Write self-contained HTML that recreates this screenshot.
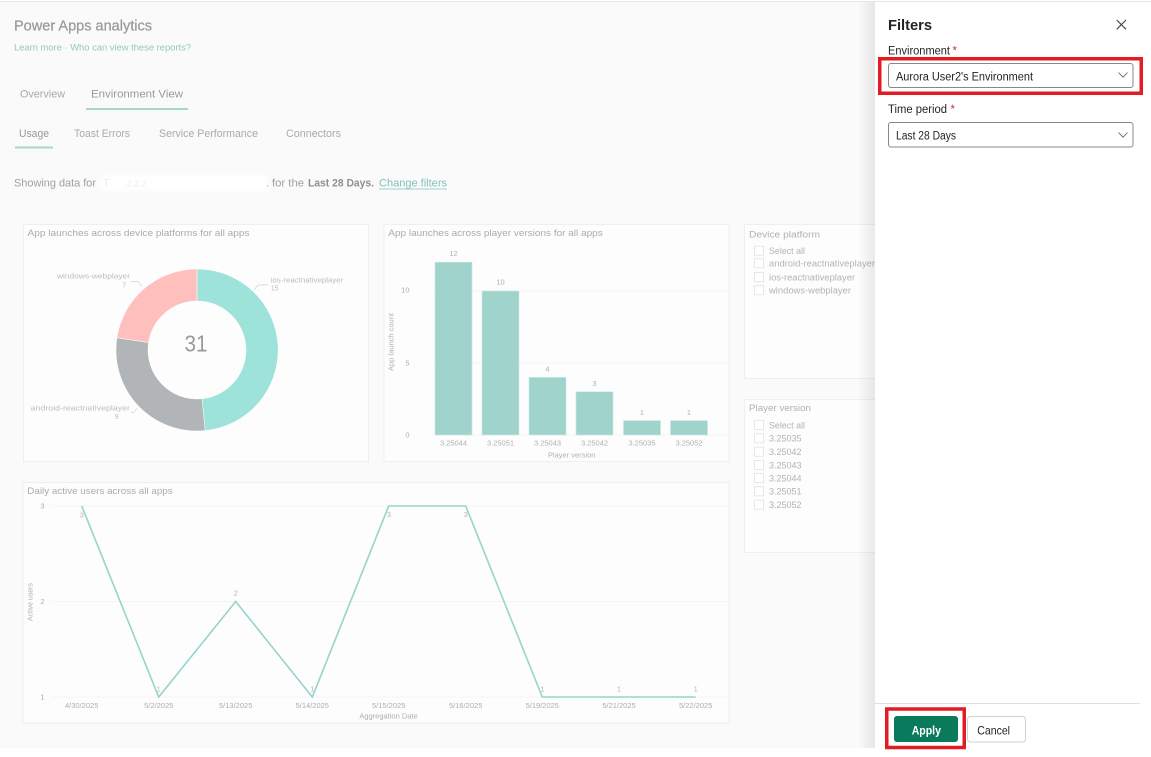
<!DOCTYPE html>
<html><head><meta charset="utf-8"><style>
html,body{margin:0;padding:0;background:#fff;width:1151px;height:757px;overflow:hidden}
svg{display:block;font-family:"Liberation Sans",Arial,sans-serif}
</style></head><body>
<svg width="1151" height="757" viewBox="0 0 1151 757" xmlns="http://www.w3.org/2000/svg">
<defs>
<linearGradient id="sh" x1="0" x2="1" y1="0" y2="0">
<stop offset="0" stop-color="#000" stop-opacity="0"/>
<stop offset="1" stop-color="#000" stop-opacity="0.08"/>
</linearGradient>
<filter id="bl" x="-20%" y="-50%" width="140%" height="200%"><feGaussianBlur stdDeviation="2.5"/></filter>
</defs>
<rect x="0" y="0" width="1151" height="757" fill="#fff"/>
<rect x="0" y="2" width="875" height="746" fill="#fafafa"/>
<line x1="0" y1="1.5" x2="1151" y2="1.5" stroke="#e6e6e6" stroke-width="1"/>

<!-- header -->
<text x="14" y="30.5" font-size="14.5" fill="#9a9a9a" stroke="#9a9a9a" stroke-width="0.25" textLength="138" lengthAdjust="spacingAndGlyphs">Power Apps analytics</text>
<text x="14" y="50.5" font-size="9.5" fill="#8fc9c1" textLength="177" lengthAdjust="spacingAndGlyphs">Learn more · Who can view these reports?</text>
<text x="20" y="97.5" font-size="11" fill="#a8a8a8" textLength="45" lengthAdjust="spacingAndGlyphs">Overview</text>
<text x="91" y="97.5" font-size="11" fill="#999" textLength="92" lengthAdjust="spacingAndGlyphs">Environment View</text>
<rect x="86" y="108" width="102" height="2" fill="#a6d7cd"/>
<text x="19" y="137" font-size="11" fill="#999" textLength="30" lengthAdjust="spacingAndGlyphs">Usage</text>
<text x="74" y="137" font-size="11" fill="#aaa" textLength="56" lengthAdjust="spacingAndGlyphs">Toast Errors</text>
<text x="159" y="137" font-size="11" fill="#aaa" textLength="99" lengthAdjust="spacingAndGlyphs">Service Performance</text>
<text x="286" y="137" font-size="11" fill="#aaa" textLength="55" lengthAdjust="spacingAndGlyphs">Connectors</text>
<rect x="15" y="146.5" width="38" height="2" fill="#a6d7cd"/>
<text x="14" y="186.5" font-size="11" fill="#a0a0a0" textLength="82" lengthAdjust="spacingAndGlyphs">Showing data for</text>
<rect x="100" y="175" width="168" height="16" rx="6" fill="#fff" filter="url(#bl)"/>
<text x="103" y="186.5" font-size="11" fill="#ececec">T</text>
<text x="124" y="186.5" font-size="9" fill="#efefef">.2.2.2</text>
<text x="266" y="186.5" font-size="11" fill="#b0b0b0">.</text>
<text x="272" y="186.5" font-size="11" fill="#a0a0a0" textLength="32" lengthAdjust="spacingAndGlyphs">for the</text>
<text x="308" y="186.5" font-size="11" font-weight="bold" fill="#8f8f8f" textLength="66" lengthAdjust="spacingAndGlyphs">Last 28 Days.</text>
<text x="379" y="186.5" font-size="11" fill="#7ec2b9" textLength="68" lengthAdjust="spacingAndGlyphs">Change filters</text>
<line x1="379" y1="189" x2="447" y2="189" stroke="#7ec2b9" stroke-width="0.8"/>

<!-- donut card -->
<rect x="23.5" y="224.5" width="345" height="237" fill="#fdfdfd" stroke="#efefef"/>
<text x="27.5" y="236" font-size="9.5" fill="#ababab" textLength="222" lengthAdjust="spacingAndGlyphs">App launches across device platforms for all apps</text>
<path d="M197,269 A81,81 0 0 1 205.2,430.6 L201.96,398.75 A49,49 0 0 0 197,301 Z" fill="#9de3da" stroke="#fff" stroke-width="0.5"/>
<path d="M205.2,430.6 A81,81 0 0 1 116.93,337.74 L148.56,342.58 A49,49 0 0 0 201.96,398.75 Z" fill="#b1b5b7" stroke="#fff" stroke-width="0.5"/>
<path d="M116.93,337.74 A81,81 0 0 1 197,269 L197,301 A49,49 0 0 0 148.56,342.58 Z" fill="#ffc0bd" stroke="#fff" stroke-width="0.5"/>
<text x="184.5" y="351.5" font-size="23" fill="#9a9a9a" textLength="23" lengthAdjust="spacingAndGlyphs">31</text>
<text x="130" y="278.5" font-size="7" fill="#bdbdbd" text-anchor="end" textLength="73" lengthAdjust="spacingAndGlyphs">windows-webplayer</text>
<text x="126" y="287.7" font-size="7" fill="#bdbdbd" text-anchor="end">7</text>
<polyline points="131,281.7 138.3,281.7 142.3,286.7" fill="none" stroke="#d0d0d0" stroke-width="0.7"/>
<text x="270.7" y="282.7" font-size="7" fill="#bdbdbd" textLength="72.6" lengthAdjust="spacingAndGlyphs">ios-reactnativeplayer</text>
<text x="270.7" y="290.7" font-size="7" fill="#bdbdbd">15</text>
<polyline points="254,290 258,285 268,285" fill="none" stroke="#d0d0d0" stroke-width="0.7"/>
<text x="130" y="410.7" font-size="7" fill="#bdbdbd" text-anchor="end" textLength="99.3" lengthAdjust="spacingAndGlyphs">android-reactnativeplayer</text>
<text x="118.7" y="419" font-size="7" fill="#bdbdbd" text-anchor="end">9</text>
<polyline points="131,412.7 133.5,412.7 137,408.3" fill="none" stroke="#d0d0d0" stroke-width="0.7"/>

<!-- bar card -->
<rect x="384" y="224.5" width="345" height="237" fill="#fdfdfd" stroke="#efefef"/>
<text x="388.3" y="236" font-size="9.5" fill="#ababab" textLength="214.4" lengthAdjust="spacingAndGlyphs">App launches across player versions for all apps</text>
<line x1="429" y1="291" x2="728" y2="291" stroke="#f2f2f2" stroke-width="0.8"/>
<line x1="429" y1="363" x2="728" y2="363" stroke="#f2f2f2" stroke-width="0.8"/>
<line x1="429" y1="435" x2="728" y2="435" stroke="#f2f2f2" stroke-width="0.8"/>
<g font-size="7.5" fill="#adadad" text-anchor="end">
<text x="409.5" y="437.3">0</text>
<text x="409.5" y="365.7">5</text>
<text x="409.5" y="292.7">10</text>
</g>
<text transform="translate(393.3,342) rotate(-90)" font-size="7.5" fill="#b0b0b0" text-anchor="middle" textLength="58" lengthAdjust="spacingAndGlyphs">App launch count</text>
<g fill="#9fd3cc" stroke="#c8e8e3" stroke-width="0.6">
<rect x="435" y="262.2" width="37" height="172.8"/>
<rect x="482" y="291" width="37" height="144"/>
<rect x="529" y="377.4" width="37" height="57.6"/>
<rect x="576" y="391.8" width="37" height="43.2"/>
<rect x="623.5" y="420.6" width="37" height="14.4"/>
<rect x="670.5" y="420.6" width="37" height="14.4"/>
</g>
<g font-size="7.5" fill="#b0b0b0" text-anchor="middle">
<text x="453.5" y="256">12</text>
<text x="500.5" y="284.7">10</text>
<text x="547.5" y="371.7">4</text>
<text x="594.5" y="386">3</text>
<text x="642" y="415">1</text>
<text x="689" y="415">1</text>
<text x="453.5" y="445.7">3.25044</text>
<text x="500.5" y="445.7">3.25051</text>
<text x="547.5" y="445.7">3.25043</text>
<text x="594.5" y="445.7">3.25042</text>
<text x="642" y="445.7">3.25035</text>
<text x="689" y="445.7">3.25052</text>
<text x="571.7" y="457.3">Player version</text>
</g>

<!-- slicers -->
<rect x="744.5" y="224.5" width="140" height="154" fill="#fdfdfd" stroke="#efefef"/>
<text x="749" y="237.3" font-size="9.5" fill="#b0b0b0" textLength="71" lengthAdjust="spacingAndGlyphs">Device platform</text>
<g fill="#fff" stroke="#e2e2e2" stroke-width="0.8">
<rect x="754.5" y="246.2" width="9" height="9"/>
<rect x="754.5" y="258.8" width="9" height="9"/>
<rect x="754.5" y="272.5" width="9" height="9"/>
<rect x="754.5" y="285.8" width="9" height="9"/>
</g>
<g font-size="9" fill="#b3b3b3">
<text x="769" y="254" textLength="36" lengthAdjust="spacingAndGlyphs">Select all</text>
<text x="769" y="266.7" textLength="106" lengthAdjust="spacingAndGlyphs">android-reactnativeplayer</text>
<text x="769" y="280.3" textLength="86" lengthAdjust="spacingAndGlyphs">ios-reactnativeplayer</text>
<text x="769" y="293.7" textLength="82" lengthAdjust="spacingAndGlyphs">windows-webplayer</text>
</g>
<rect x="744.5" y="399.5" width="140" height="153" fill="#fdfdfd" stroke="#efefef"/>
<text x="749" y="411" font-size="9.5" fill="#b0b0b0" textLength="62" lengthAdjust="spacingAndGlyphs">Player version</text>
<g fill="#fff" stroke="#e2e2e2" stroke-width="0.8">
<rect x="754.5" y="420.5" width="9" height="9"/>
<rect x="754.5" y="433.8" width="9" height="9"/>
<rect x="754.5" y="447.2" width="9" height="9"/>
<rect x="754.5" y="460.5" width="9" height="9"/>
<rect x="754.5" y="473.5" width="9" height="9"/>
<rect x="754.5" y="486.8" width="9" height="9"/>
<rect x="754.5" y="500.2" width="9" height="9"/>
</g>
<g font-size="9" fill="#b3b3b3">
<text x="769" y="428.3" textLength="36" lengthAdjust="spacingAndGlyphs">Select all</text>
<text x="769" y="441.6">3.25035</text>
<text x="769" y="455">3.25042</text>
<text x="769" y="468.3">3.25043</text>
<text x="769" y="481.3">3.25044</text>
<text x="769" y="494.6">3.25051</text>
<text x="769" y="508">3.25052</text>
</g>

<!-- line card -->
<rect x="23" y="482.5" width="706" height="240.5" fill="#fdfdfd" stroke="#efefef"/>
<text x="27.3" y="494" font-size="9.5" fill="#ababab" textLength="145.4" lengthAdjust="spacingAndGlyphs">Daily active users across all apps</text>
<g stroke="#f2f2f2" stroke-width="0.8">
<line x1="50.7" y1="506" x2="726.7" y2="506"/>
<line x1="50.7" y1="601.5" x2="726.7" y2="601.5"/>
<line x1="50.7" y1="697" x2="726.7" y2="697"/>
</g>
<g font-size="7.5" fill="#adadad" text-anchor="end">
<text x="44.5" y="508.7">3</text>
<text x="44.5" y="604">2</text>
<text x="44.5" y="699.3">1</text>
</g>
<text transform="translate(32.5,602) rotate(-90)" font-size="7.5" fill="#b0b0b0" text-anchor="middle" textLength="38" lengthAdjust="spacingAndGlyphs">Active users</text>
<polyline points="81.7,506 158.7,697 235.7,601.5 312.3,697 388.7,506 465.7,506 542.3,697 619,697 695.7,697" fill="none" stroke="#97d4cc" stroke-width="1.6" stroke-linejoin="miter"/>
<g font-size="7.5" fill="#b5b5b5" text-anchor="middle">
<text x="81.7" y="517.3">3</text>
<text x="158.7" y="691.3">1</text>
<text x="235.7" y="595.3">2</text>
<text x="312.3" y="691.3">1</text>
<text x="389" y="517">3</text>
<text x="465.7" y="517">3</text>
<text x="542.3" y="691.3">1</text>
<text x="619" y="691.3">1</text>
<text x="695.7" y="691.3">1</text>
</g>
<g font-size="7.5" fill="#adadad" text-anchor="middle">
<text x="81.7" y="708">4/30/2025</text>
<text x="158.7" y="708">5/2/2025</text>
<text x="235.7" y="708">5/13/2025</text>
<text x="312.3" y="708">5/14/2025</text>
<text x="388.7" y="708">5/15/2025</text>
<text x="465.7" y="708">5/16/2025</text>
<text x="542.3" y="708">5/19/2025</text>
<text x="619" y="708">5/21/2025</text>
<text x="695.7" y="708">5/22/2025</text>
<text x="388.5" y="718.7">Aggregation Date</text>
</g>

<!-- panel -->
<rect x="858" y="2" width="17" height="746" fill="url(#sh)"/>
<rect x="875" y="2" width="276" height="755" fill="#fff"/>
<text x="888" y="30" font-size="15" font-weight="bold" fill="#242424" textLength="44" lengthAdjust="spacingAndGlyphs">Filters</text>
<path d="M1116.7,20 L1126,29.3 M1126,20 L1116.7,29.3" stroke="#444" stroke-width="1.1" fill="none"/>
<text x="888" y="54.5" font-size="11.5" fill="#242424" textLength="62" lengthAdjust="spacingAndGlyphs">Environment</text>
<text x="952.5" y="54.5" font-size="11.5" fill="#c4314b">*</text>
<rect x="888.5" y="63.5" width="244.5" height="24" rx="2.5" fill="#fff" stroke="#8a8886" stroke-width="1"/>
<text x="896" y="80.7" font-size="11.5" fill="#242424" textLength="137" lengthAdjust="spacingAndGlyphs">Aurora User2's Environment</text>
<path d="M1118.5,72.5 L1123,77.2 L1127.5,72.5" stroke="#666" stroke-width="0.9" fill="none"/>
<rect x="879.75" y="58.75" width="261.5" height="34.5" fill="none" stroke="#e31b23" stroke-width="3.5"/>
<text x="888" y="113" font-size="11.5" fill="#242424" textLength="59" lengthAdjust="spacingAndGlyphs">Time period</text>
<text x="950.5" y="113" font-size="11.5" fill="#c4314b">*</text>
<rect x="888.5" y="122.5" width="244.5" height="24.5" rx="2.5" fill="#fff" stroke="#8a8886" stroke-width="1"/>
<text x="896" y="139.3" font-size="11.5" fill="#242424" textLength="60" lengthAdjust="spacingAndGlyphs">Last 28 Days</text>
<path d="M1118.5,132.5 L1123,137.2 L1127.5,132.5" stroke="#666" stroke-width="0.9" fill="none"/>

<line x1="875" y1="703.5" x2="1140" y2="703.5" stroke="#e0e0e0" stroke-width="1"/>
<rect x="894" y="716" width="64" height="26" rx="3" fill="#0a7a5c"/>
<text x="911.7" y="734.3" font-size="12" font-weight="bold" fill="#fff" textLength="29.3" lengthAdjust="spacingAndGlyphs">Apply</text>
<rect x="886.75" y="709" width="77.5" height="38.5" fill="none" stroke="#e31b23" stroke-width="3.5"/>
<rect x="967.5" y="716.5" width="58" height="25.5" rx="3" fill="#fff" stroke="#d1d1d1" stroke-width="1"/>
<text x="977.3" y="734.3" font-size="12" fill="#242424" textLength="32.7" lengthAdjust="spacingAndGlyphs">Cancel</text>
</svg>
</body></html>
